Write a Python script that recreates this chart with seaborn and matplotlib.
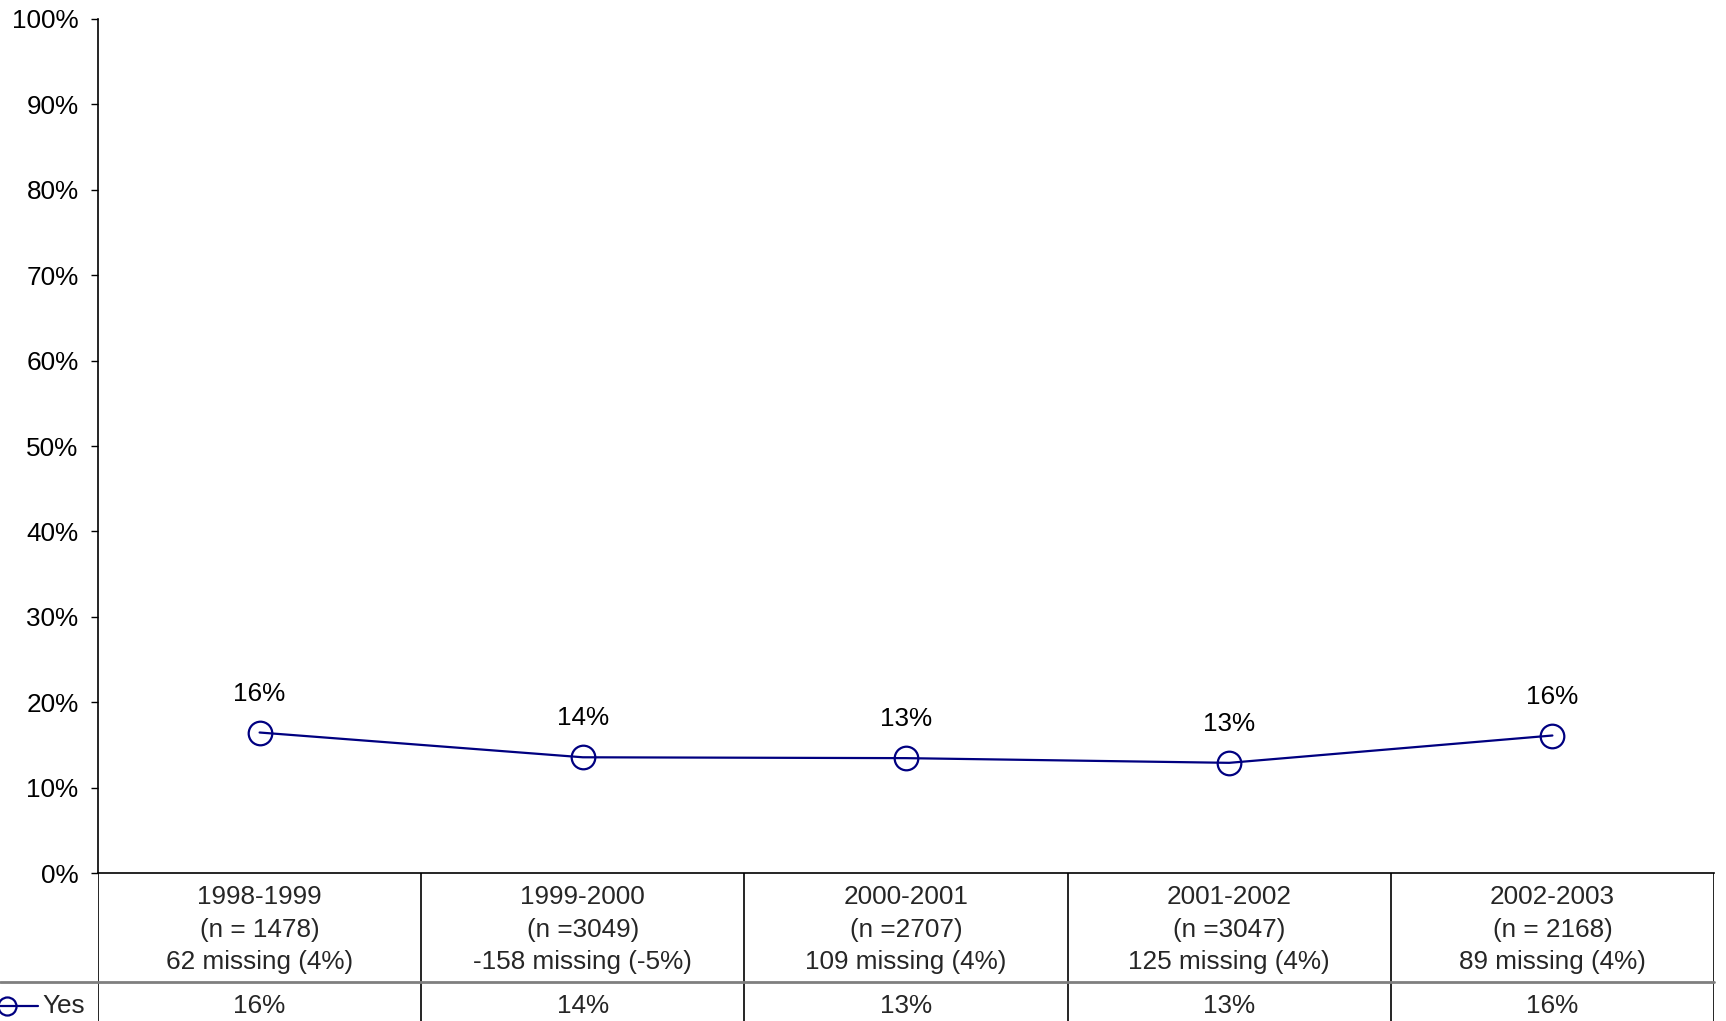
import matplotlib
matplotlib.use("Agg")
import matplotlib.pyplot as plt
import seaborn as sns
import pandas as pd

# School years and sample information shown in the table under the chart
periods = ["1998-1999", "1999-2000", "2000-2001", "2001-2002", "2002-2003"]
sample_labels = ["(n = 1478)", "(n =3049)", "(n =2707)", "(n =3047)", "(n = 2168)"]
missing_labels = ["62 missing (4%)", "-158 missing (-5%)", "109 missing (4%)",
                  "125 missing (4%)", "89 missing (4%)"]

# Share answering "Yes" in each year
yes_share = [0.1645, 0.1355, 0.1345, 0.129, 0.161]
series_name = "Yes"

LINE_COLOR = "#000080"
FS = 18.8

sns.set_theme(style="white")
plt.rcParams["font.family"] = ["Liberation Sans", "DejaVu Sans"]
plt.rcParams["font.size"] = FS

W, H = 1726, 1021
fig = plt.figure(figsize=(W / 100, H / 100), dpi=100)
fig.patch.set_facecolor("white")

left_px, right_px = 98, 1714
top_px, zero_px = 19, 873
ax = fig.add_axes([left_px / W, 1 - zero_px / H,
                   (right_px - left_px) / W, (zero_px - top_px) / H])
ax.set_facecolor("white")

df = pd.DataFrame({"period": periods, "share": yes_share})
sns.lineplot(data=df, x="period", y="share", sort=False, ax=ax,
             color=LINE_COLOR, linewidth=1.6, marker="o", markersize=17,
             markerfacecolor="none", markeredgecolor=LINE_COLOR,
             markeredgewidth=1.6, clip_on=False, legend=False)

for i, v in enumerate(yes_share):
    ax.annotate(f"{v:.0%}", xy=(i, v), xytext=(0, 28), textcoords="offset points",
                ha="center", va="center", fontsize=FS, color="black")

ax.set_xlim(-0.5, len(periods) - 0.5)
ax.set_ylim(0, 1)
ax.set_yticks([i / 10 for i in range(11)])
ax.set_yticklabels([f"{i * 10}%" for i in range(11)])
ax.tick_params(axis="y", which="both", left=True, length=5, width=1,
               color="black", pad=9, labelsize=FS, labelcolor="black")
ax.set_xticks([])
ax.set_xlabel("")
ax.set_ylabel("")
for side in ["top", "right"]:
    ax.spines[side].set_visible(False)
for side in ["left", "bottom"]:
    ax.spines[side].set_visible(True)
    ax.spines[side].set_color("black")
    ax.spines[side].set_linewidth(1.2)

# Data table beneath the plot, sharing the category positions
tab = fig.add_axes([left_px / W, 0, (right_px - left_px) / W, (H - zero_px) / H])
tab.set_xlim(-0.5, len(periods) - 0.5)
tab.set_ylim(0, H - zero_px)
tab.axis("off")

row_split = H - 982
for b in [i - 0.5 for i in range(len(periods) + 1)]:
    tab.plot([b, b], [0, H - zero_px], color="black", linewidth=1.2,
             solid_capstyle="butt")

# horizontal divider between the header row and the series row (extends under the legend key)
fig.add_artist(plt.Line2D([0, right_px / W], [row_split / H, row_split / H],
                          color="#7f7f7f", linewidth=2.0))

for i, (p, s, m) in enumerate(zip(periods, sample_labels, missing_labels)):
    tab.text(i, H - 897, p, ha="center", va="center", fontsize=FS)
    tab.text(i, H - 930, s, ha="center", va="center", fontsize=FS)
    tab.text(i, H - 962, m, ha="center", va="center", fontsize=FS)
    tab.text(i, H - 1006, f"{yes_share[i]:.0%}", ha="center", va="center", fontsize=FS)

# Legend key for the series row
key_y = 1 - 1006 / H
fig.add_artist(plt.Line2D([0, 38 / W], [key_y, key_y], color=LINE_COLOR, linewidth=1.6))
fig.add_artist(plt.Line2D([7 / W], [key_y], marker="o", markersize=13,
                          markerfacecolor="none", markeredgecolor=LINE_COLOR,
                          markeredgewidth=1.6))
fig.text(42 / W, key_y, series_name, ha="left", va="center", fontsize=FS)

fig.savefig("out.png", dpi=100, facecolor="white")
